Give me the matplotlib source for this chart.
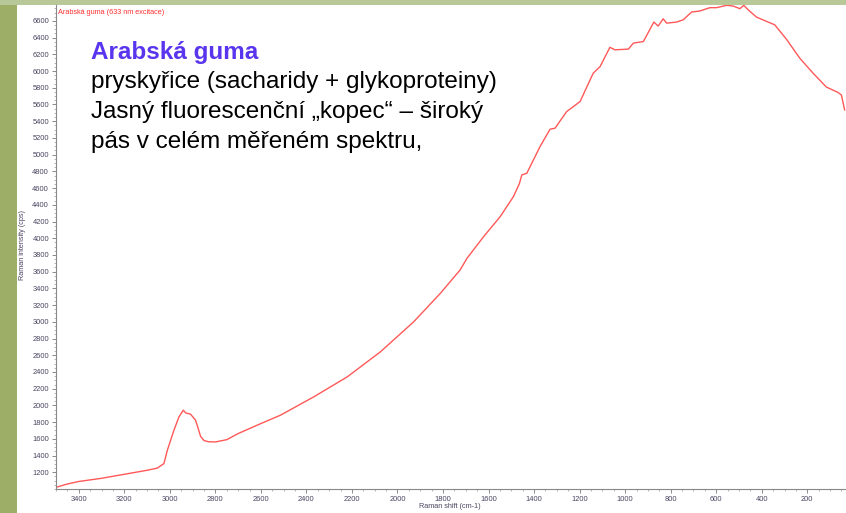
import matplotlib
matplotlib.use("Agg")
import matplotlib.pyplot as plt
from matplotlib.ticker import MultipleLocator
from matplotlib.patches import Rectangle

# Data (Raman shift in cm-1, intensity in cps)
shift = [3500, 3450, 3400, 3300, 3200, 3100, 3055, 3026, 3011, 2982, 2960, 2941,
         2930, 2909, 2887, 2875, 2865, 2850, 2830, 2800, 2750, 2700, 2600, 2514,
         2368, 2221, 2075, 1929, 1812, 1725, 1695, 1622, 1549, 1491, 1465, 1454,
         1432, 1374, 1330, 1308, 1257, 1198, 1154, 1140, 1110, 1067, 1045, 986,
         964, 920, 874, 855, 833, 818, 774, 745, 708, 672, 628, 599, 555, 526,
         496, 479, 460, 423, 379, 343, 292, 233, 175, 116, 65, 50, 36]
intensity = [1020, 1060, 1090, 1128, 1176, 1224, 1250, 1304, 1463, 1703, 1862, 1943,
             1910, 1895, 1823, 1720, 1630, 1580, 1565, 1563, 1590, 1663, 1783, 1883,
             2102, 2341, 2641, 3000, 3340, 3620, 3759, 4018, 4258, 4497, 4650, 4757,
             4777, 5096, 5304, 5316, 5515, 5635, 5895, 5975, 6054, 6284, 6254, 6262,
             6334, 6353, 6586, 6538, 6625, 6573, 6586, 6613, 6706, 6718, 6758, 6758, 6786, 6778,
             6746, 6786, 6733, 6645, 6594, 6553, 6382, 6154, 5975, 5808, 5744, 5713, 5535]

x_ticks = list(range(3400, 199, -200))
y_ticks = list(range(1200, 6601, 200))

title = "Arabská guma"
body_lines = ["pryskyřice (sacharidy + glykoproteiny)",
              "Jasný fluorescenční „kopec“ – široký",
              "pás v celém měřeném spektru,"]

plt.rcParams['font.family'] = ['Liberation Sans', 'DejaVu Sans']

W, H = 846, 513
fig = plt.figure(figsize=(W / 100, H / 100), dpi=100)
fig.patch.set_facecolor('white')

# slide background strips
fig.add_artist(Rectangle((0, 0), 17 / W, 1, transform=fig.transFigure,
                         facecolor='#9dae66', edgecolor='none', zorder=0))
fig.add_artist(Rectangle((0, 1 - 5 / H), 1, 5 / H, transform=fig.transFigure,
                         facecolor='#b8c898', edgecolor='none', zorder=0))

ax = fig.add_axes([56 / W, (H - 489) / H, 1 - 56 / W, (489 - 5) / H])
ax.set_facecolor('none')
ax.plot(shift, intensity, color='#ff3b3b', lw=1.0, alpha=0.85)

ax.set_xlim(3500, 30)
ax.set_ylim(1000, 6790)
ax.set_xticks(x_ticks)
ax.set_yticks(y_ticks)
ax.xaxis.set_minor_locator(MultipleLocator(50))
ax.yaxis.set_minor_locator(MultipleLocator(50))
for s in ['top', 'right']:
    ax.spines[s].set_visible(False)
for s in ['left', 'bottom']:
    ax.spines[s].set_color('#888888')
    ax.spines[s].set_linewidth(0.8)
ax.tick_params(which='major', length=3, width=0.6, color='#777777',
               labelsize=5.4, labelcolor='#4a4460', pad=2)
ax.tick_params(which='minor', length=1.5, width=0.5, color='#999999')

fig.text(22 / W, 1 - 245 / H, "Raman intensity (cps)", rotation=90,
         fontsize=5.2, color='#4a4460', ha='center', va='center')
fig.text(450 / W, 1 - 507 / H, "Raman shift (cm-1)", fontsize=5.2,
         color='#4a4460', ha='center', va='center')
fig.text(58 / W, 1 - 12 / H, "Arabská guma (633 nm excitace)", fontsize=5.2,
         color='#ff3030', ha='left', va='center')

fig.text(91 / W, 1 - 53 / H, title, fontsize=17.5, fontweight='bold',
         color='#5a35ee', ha='left', va='center')
for i, line in enumerate(body_lines):
    fig.text(91 / W, 1 - (82 + 30 * i) / H, line, fontsize=17.5,
             color='black', ha='left', va='center')

fig.savefig('out.png', dpi=100)
